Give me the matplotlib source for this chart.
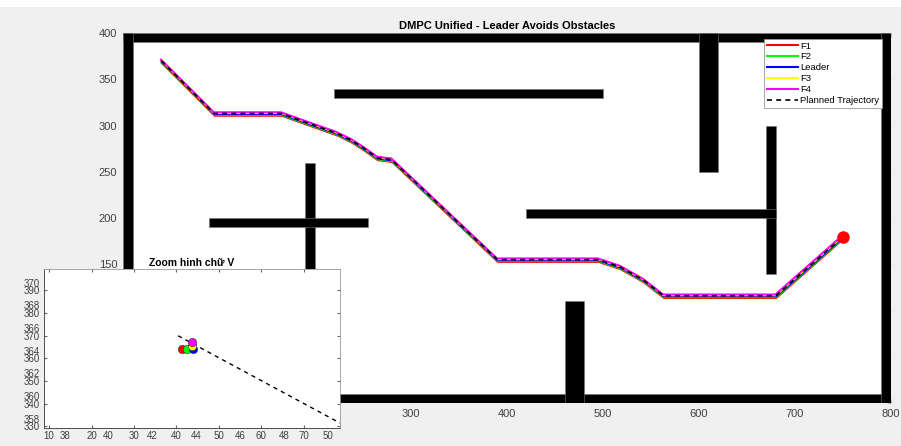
import numpy as np
import matplotlib
matplotlib.use('Agg')
import matplotlib.pyplot as plt
from matplotlib.patches import Rectangle

plt.rcParams['font.family'] = ['Liberation Sans', 'DejaVu Sans']

# planned trajectory (leader reference) vertices
path_x = [40, 95, 165, 200, 222, 238, 250, 265, 280, 390, 495, 518, 542, 563, 680, 750]
path_y = [370, 313, 313, 300, 292, 284, 276, 265, 263, 155, 155, 147, 133, 116, 116, 180]

# agents and their small offset from the planned path (x, y)
agent_names = ['F1', 'F2', 'Leader', 'F3', 'F4']
agent_colors = ['#ff0000', '#00ff00', '#0000ff', '#ffff00', '#ff00ff']
agent_dx = [0.5, 0.4, 0.3, 0.0, -0.4]
agent_dy = [-2.4, -1.5, -0.7, 0.5, 1.3]

goal = (750, 180)

# walls + obstacles: x0, x1, y0, y1
obstacles = [
    (0, 800, 390, 400), (0, 800, 0, 10), (0, 10, 0, 400), (790, 800, 0, 400),
    (220, 500, 330, 340),
    (600, 620, 250, 400),
    (670, 680, 140, 300),
    (420, 680, 200, 210),
    (190, 200, 140, 260),
    (90, 255, 190, 200),
    (460, 480, 0, 110),
]

# inset: start formation (planned dashed + start markers)
inset_px = [40.4, 78.5]
inset_py = [370, 331.5]
start_x = [41.35, 42.6, 43.9, 43.7, 43.6]
start_y = [364.1, 364.1, 364.1, 365.6, 367.3]

# leftover ticks of the first zoom axes (drawn underneath)
old_xticks = [38, 40, 42, 44, 46, 48, 50]
old_yticks = [358, 360, 362, 364, 366, 368, 370]
new_xticks = [10, 20, 30, 40, 50, 60, 70]
new_yticks = [330, 340, 350, 360, 370, 380, 390]

txtc = '#404040'

fig = plt.figure(figsize=(9.01, 4.46), dpi=100)
fig.patch.set_facecolor('#f0f0f0')

ax = fig.add_axes([0.1365, 0.0964, 0.8524, 0.8296])
for (x0, x1, y0, y1) in obstacles:
    ax.add_patch(Rectangle((x0, y0), x1 - x0, y1 - y0, facecolor='black', edgecolor='#777777', lw=0.4, zorder=2))

for name, c, dx, dy in zip(agent_names, agent_colors, agent_dx, agent_dy):
    ax.plot(np.array(path_x) + dx, np.array(path_y) + dy, color=c, lw=1.5, label=name, zorder=3)
ax.plot(path_x, path_y, 'k--', lw=1.2, dashes=(3, 2.5), label='Planned Trajectory', zorder=4)
ax.plot(goal[0], goal[1], 'o', color='red', ms=8, zorder=5)

ax.set_xlim(0, 800)
ax.set_ylim(0, 400)
ax.set_xticks(range(0, 801, 100))
ax.set_yticks(range(0, 401, 50))
ax.tick_params(direction='in', top=True, right=True, length=3, labelsize=8, labelcolor=txtc, color='#bbbbbb', pad=4)
for s in ax.spines.values():
    s.set_visible(False)
ax.set_title('DMPC Unified - Leader Avoids Obstacles', fontsize=8, fontweight='bold', pad=3)

leg = ax.legend(loc='upper right', bbox_to_anchor=(0.988, 0.984), borderaxespad=0, fontsize=6.8,
                handlelength=3.3, handletextpad=0.2, labelspacing=0.2, borderpad=0.28,
                fancybox=False, framealpha=1, edgecolor='#999999')
leg.get_frame().set_linewidth(0.6)

# inset, first the old axes then the real one on top
inset_pos = [0.0488, 0.0404, 0.3285, 0.3565]
ax0 = fig.add_axes(inset_pos, zorder=5)
ax0.set_facecolor('white')
ax0.set_xlim(37.06, 50.53)
ax0.set_ylim(357.2, 371.2)
ax0.set_xticks(old_xticks)
ax0.set_yticks(old_yticks)
ax0.tick_params(direction='in', length=0, labelsize=7, labelcolor=txtc, pad=2)
ax0.tick_params(axis='y', pad=3)
for s in ax0.spines.values():
    s.set_visible(False)

ax1 = fig.add_axes(inset_pos, zorder=6)
ax1.patch.set_alpha(0)
ax1.plot(inset_px, inset_py, 'k--', lw=1.0, dashes=(3, 3))
for c, x, y in zip(agent_colors, start_x, start_y):
    ax1.plot(x, y, 'o', color=c, mec='#333333', mew=0.4, ms=6)
ax1.set_xlim(8.8, 78.5)
ax1.set_ylim(329.3, 399.5)
ax1.set_xticks(new_xticks)
ax1.set_yticks(new_yticks)
ax1.tick_params(direction='in', top=True, right=True, length=2.5, labelsize=7, labelcolor=txtc, color='#666666', pad=2)
ax1.tick_params(axis='y', pad=3)
for s in ax1.spines.values():
    s.set_color('#999999')
    s.set_linewidth(0.6)
ax1.spines['left'].set_color('#333333')
ax1.spines['bottom'].set_color('#333333')
ax1.set_title('Zoom hinh chữ V', fontsize=7.5, fontweight='bold', pad=2)

fig.patches.append(Rectangle((0, 0.984), 1, 0.016, transform=fig.transFigure, facecolor='white', edgecolor='none'))

fig.savefig('out.png', dpi=100, facecolor=fig.get_facecolor())
